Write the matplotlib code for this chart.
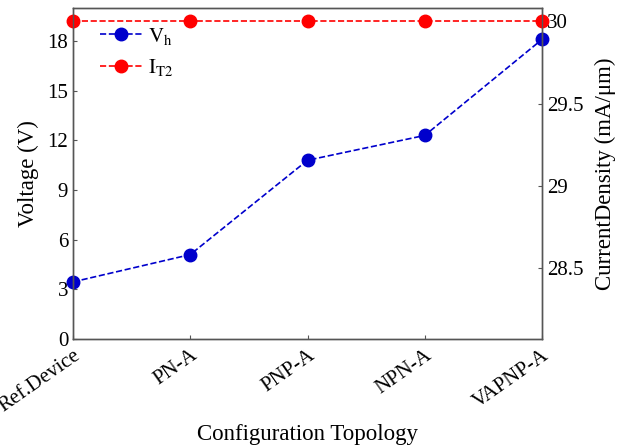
import matplotlib
matplotlib.use('Agg')
import matplotlib.pyplot as plt

# Data
configs = ['Ref.Device', 'PN-A', 'PNP-A', 'NPN-A', 'VAPNP-A']
vh = [3.45, 5.1, 10.8, 12.3, 18.1]          # holding voltage (V)
it2 = [30, 30, 30, 30, 30]                  # current density (mA/um)

plt.rcParams['font.family'] = ['Liberation Serif', 'DejaVu Serif']
plt.rcParams['mathtext.fontset'] = 'stix'

fig = plt.figure(figsize=(6.29, 4.47), dpi=100)
ax = fig.add_axes([73 / 629, 1 - 339 / 447, (542 - 73) / 629, (339 - 8) / 447])
ax2 = ax.twinx()

x = list(range(1, len(configs) + 1))

l1, = ax.plot(x, vh, '--o', color='#0000CC', markersize=9, lw=1.2,
              label=r'$\mathrm{V_h}$')
l2, = ax2.plot(x, it2, '--o', color='#FF0000', markersize=9, lw=1.2,
               label=r'$\mathrm{I_{T2}}$', clip_on=False)
l1.set_clip_on(False)

ax.set_xlim(1, 5)
ax.set_ylim(0, 20)
ax.set_yticks([0, 3, 6, 9, 12, 15, 18])
ax2.set_ylim(28.07, 30.08)
ax2.set_yticks([28.5, 29, 29.5, 30])
ax2.set_yticklabels(['28.5', '29', '29.5', '30'])

ax.set_xticks(x)
ax.set_xticklabels(configs, rotation=35, ha='right', rotation_mode='anchor')

for a in (ax, ax2):
    a.tick_params(direction='in', labelsize=15, color='#555555', length=3)
    for s in a.spines.values():
        s.set_color('#555555')
        s.set_linewidth(1.0)
ax.tick_params(axis='x', pad=5)

ax.set_xlabel('Configuration Topology', fontsize=16.5, labelpad=6)
ax.set_ylabel('Voltage (V)', fontsize=16.5, labelpad=6)
ax2.set_ylabel('CurrentDensity (mA/\u03bcm)', fontsize=16.5, labelpad=8)

ax.legend(handles=[l1, l2], loc='upper left', frameon=False, fontsize=15,
          bbox_to_anchor=(0.018, 1.003), handlelength=2.0, handletextpad=0.3,
          labelspacing=0.5)

fig.savefig('out.png', dpi=100)
